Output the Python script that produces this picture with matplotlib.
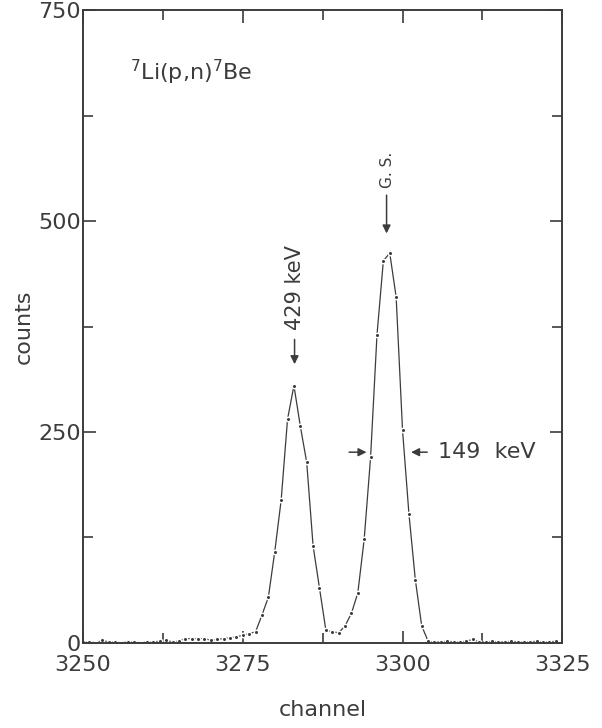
import matplotlib
matplotlib.use("Agg")
import matplotlib.pyplot as plt
from matplotlib.ticker import MultipleLocator

plt.rcParams["font.family"] = ["DejaVu Sans"]
plt.rcParams["mathtext.fontset"] = "dejavusans"

# spectrum, one point per channel
channels = list(range(3250, 3325))
counts = [
    1, 1, 0, 3, 1, 1, 0, 1, 1, 0,          # 3250-3259
    1, 1, 2, 3, 1, 2, 5, 5, 5, 5,          # 3260-3269
    3, 4, 5, 6, 7, 9, 11, 13, 33, 54,      # 3270-3279
    108, 169, 265, 305, 257, 214, 115, 65, 15, 13,   # 3280-3289
    12, 20, 35, 59, 123, 220, 365, 453, 462, 410,    # 3290-3299
    252, 153, 75, 20, 2, 1, 1, 2, 1, 1,    # 3300-3309
    2, 4, 1, 1, 2, 1, 1, 2, 1, 1,          # 3310-3319
    1, 2, 1, 1, 2,                         # 3320-3324
]

xticks = [3250, 3275, 3300, 3325]
yticks = [0, 250, 500, 750]

ink = "#3c3c3c"

fig = plt.figure(figsize=(6.02, 7.28), dpi=100)
ax = fig.add_axes([0.138, 0.117, 0.796, 0.869])

ax.plot(channels, counts, "-", color=ink, lw=0.9, marker="o", ms=3.2,
        mfc=ink, mec="white", mew=1.0)

ax.set_xlim(3250, 3325)
ax.set_ylim(0, 750)
ax.set_xticks(xticks)
ax.set_yticks(yticks)
ax.xaxis.set_minor_locator(MultipleLocator(12.5))
ax.yaxis.set_minor_locator(MultipleLocator(125))
ax.tick_params(which="both", direction="in", top=True, right=True,
               colors=ink, width=1.2, labelsize=16, labelcolor=ink)
ax.tick_params(axis="x", which="major", length=9, pad=9)
ax.tick_params(axis="y", which="major", length=9, pad=1.5)
ax.tick_params(which="minor", length=7)
for s in ax.spines.values():
    s.set_color(ink)
    s.set_linewidth(1.4)

ax.set_xlabel("channel", fontsize=16, color=ink, labelpad=18)
ax.set_ylabel("counts", fontsize=16, color=ink, labelpad=3)

# reaction label
ax.text(3257.3, 676, "$^7$Li(p,n)$^7$Be", fontsize=16, color=ink,
        va="center", ha="left")

# peak labels with arrows
arrow = dict(arrowstyle="-|>", color=ink, lw=1.1, mutation_scale=12)
ax.annotate("", xy=(3283.1, 327), xytext=(3283.1, 363), arrowprops=arrow)
ax.text(3283.2, 421, "429 keV", rotation=90, fontsize=15, color=ink,
        ha="center", va="center")
ax.annotate("", xy=(3297.5, 482), xytext=(3297.5, 534), arrowprops=arrow)
ax.text(3297.6, 561, "G. S.", rotation=90, fontsize=11, color=ink,
        ha="center", va="center")

# width markers
ax.annotate("", xy=(3294.8, 226), xytext=(3291.2, 226), arrowprops=arrow)
ax.annotate("", xy=(3300.9, 226), xytext=(3304.3, 226), arrowprops=arrow)
ax.text(3305.5, 226, "149  keV", fontsize=16, color=ink,
        ha="left", va="center")

fig.savefig("out.png", dpi=100, facecolor="white")
